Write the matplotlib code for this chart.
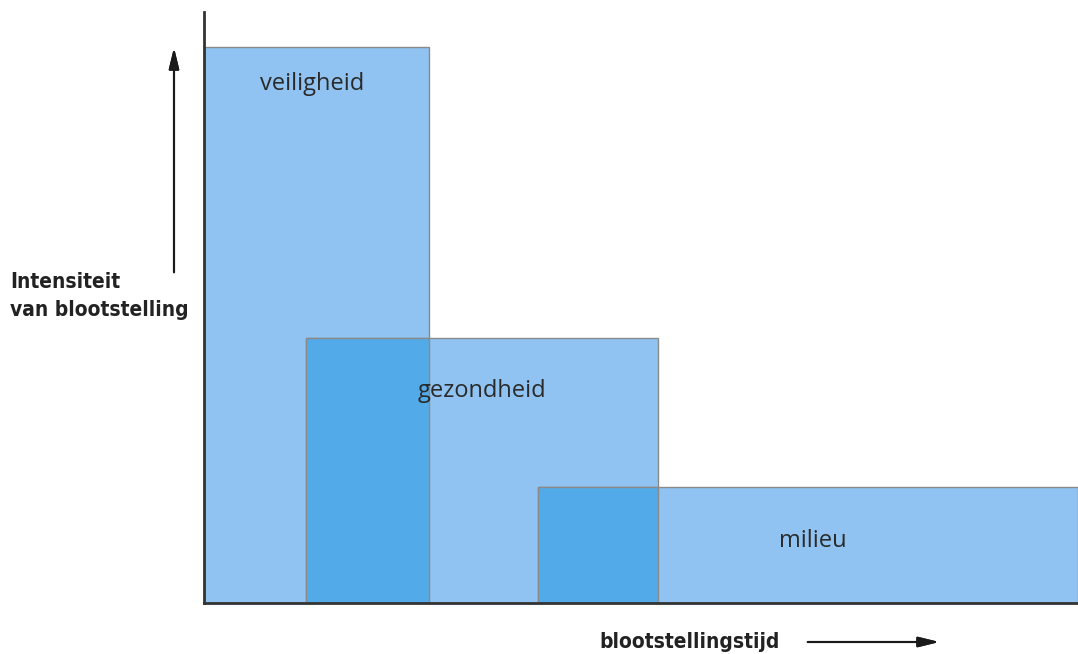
import matplotlib.pyplot as plt
from matplotlib.patches import Rectangle

# exposure zones: start, end, intensity
zones = ["veiligheid", "gezondheid", "milieu"]
start = [0, 102, 334]
end = [225, 454, 874]
height = [556, 265, 116]

LIGHT = "#90c3f1"
DARK = "#53aae9"
EDGE = "#8a8a8a"

fig = plt.figure(figsize=(10.78, 6.54), dpi=100)
W, H = 1078, 654
ax = fig.add_axes([204 / W, (654 - 603) / H, 874 / W, 591 / H])
ax.set_xlim(0, 874)
ax.set_ylim(0, 591)

for s, e, h in zip(start, end, height):
    ax.add_patch(Rectangle((s, 0), e - s, h, facecolor=LIGHT, edgecolor=EDGE, lw=1, zorder=2))

# darker where zones overlap
for i in range(len(zones) - 1):
    s = start[i + 1]
    e = min(end[i], end[i + 1])
    h = min(height[i], height[i + 1])
    if e > s:
        ax.add_patch(Rectangle((s, 0), e - s, h, facecolor=DARK, edgecolor=EDGE, lw=1, zorder=3))

label_pos = [(108, 519), (278, 212), (609, 62)]
for name, (x, y) in zip(zones, label_pos):
    ax.text(x, y, name, ha="center", va="center", fontsize=17, color="#2a2a2a",
            family="Open Sans", zorder=5)

for side in ["top", "right"]:
    ax.spines[side].set_visible(False)
for side in ["left", "bottom"]:
    ax.spines[side].set_color("#333333")
    ax.spines[side].set_linewidth(2)
    ax.spines[side].set_zorder(6)
ax.set_xticks([])
ax.set_yticks([])

lab_font = dict(family="DejaVu Sans", fontstretch="condensed", fontweight="bold",
                fontsize=15, color="#222222")
fig.text(10 / W, 1 - 296 / H, "Intensiteit\nvan blootstelling", ha="left", va="center",
         linespacing=1.45, **lab_font)
fig.text(690 / W, 1 - 642 / H, "blootstellingstijd", ha="center", va="center", **lab_font)

arrow = dict(arrowstyle="-|>,head_length=0.9,head_width=0.22", color="#1a1a1a", lw=1.5,
             mutation_scale=14)
fig.add_artist(plt.annotate("", xy=(174, H - 45), xytext=(174, H - 275),
                            xycoords="figure pixels", textcoords="figure pixels",
                            arrowprops=arrow))
fig.add_artist(plt.annotate("", xy=(942, H - 642), xytext=(805, H - 642),
                            xycoords="figure pixels", textcoords="figure pixels",
                            arrowprops=arrow))

fig.savefig("out.png", dpi=100)
